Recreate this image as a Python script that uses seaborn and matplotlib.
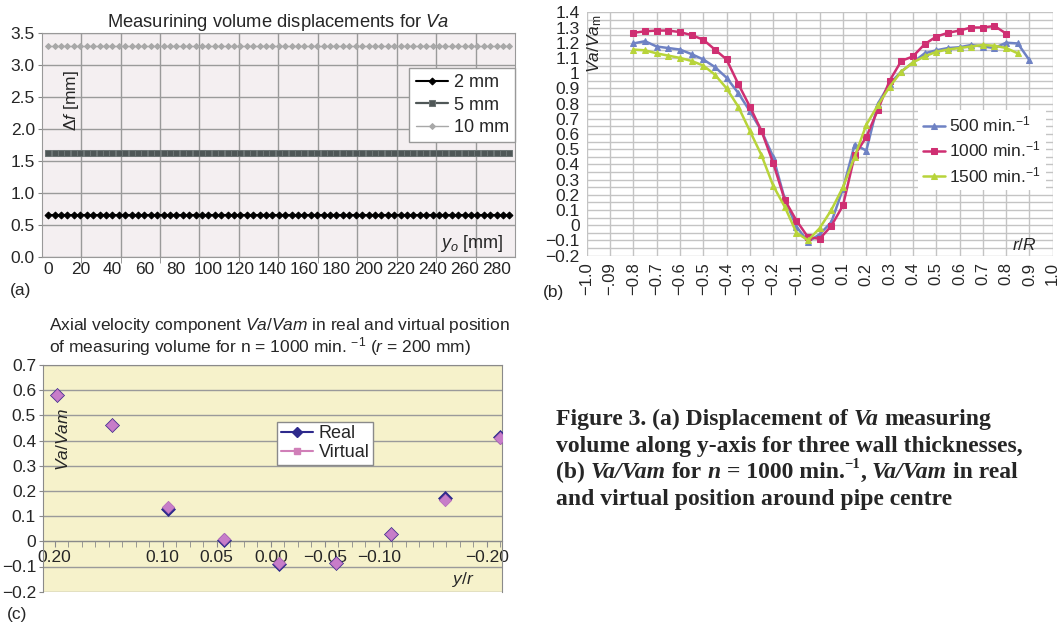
import matplotlib
matplotlib.use('Agg')
import matplotlib.pyplot as plt
import numpy as np
import pandas as pd
import seaborn as sns

sns.set_style('white')
plt.rcParams['font.family'] = ['Liberation Sans', 'DejaVu Sans']
plt.rcParams['mathtext.fontset'] = 'custom'
plt.rcParams['mathtext.rm'] = 'Liberation Sans'
plt.rcParams['mathtext.it'] = 'Liberation Sans:italic'

# %% data
# (a) measuring volume displacement for three wall thicknesses
y_o = np.arange(0, 292, 4)
wall_2mm = [0.65] * len(y_o)
wall_5mm = [1.62] * len(y_o)
wall_10mm = [3.30] * len(y_o)
a_xticks = [0, 20, 40, 60, 80, 100, 120, 140, 160, 180, 200, 220, 240, 260, 280]

# (b) Va/Vam profiles
r_500 = np.round(np.arange(-0.8, 0.901, 0.05), 2)
va_500 = [1.195, 1.21, 1.175, 1.165, 1.155, 1.125, 1.09, 1.04, 0.97, 0.87, 0.75, 0.62,
          0.45, 0.17, -0.01, -0.11, -0.06, 0.02, 0.24, 0.53, 0.49, 0.80, 0.93, 1.01,
          1.07, 1.13, 1.15, 1.165, 1.17, 1.185, 1.175, 1.165, 1.20, 1.195, 1.085]
r_1000 = np.round(np.arange(-0.8, 0.801, 0.05), 2)
va_1000 = [1.265, 1.275, 1.28, 1.28, 1.27, 1.25, 1.22, 1.155, 1.09, 0.93, 0.78, 0.62,
           0.41, 0.165, 0.03, -0.08, -0.09, -0.005, 0.13, 0.46, 0.58, 0.76, 0.95, 1.08,
           1.11, 1.19, 1.24, 1.265, 1.28, 1.30, 1.30, 1.31, 1.26]
r_1500 = np.round(np.arange(-0.8, 0.851, 0.05), 2)
va_1500 = [1.155, 1.15, 1.13, 1.115, 1.10, 1.08, 1.05, 0.99, 0.90, 0.78, 0.62, 0.46,
           0.26, 0.12, -0.05, -0.10, -0.02, 0.10, 0.25, 0.45, 0.66, 0.79, 0.91, 1.01,
           1.07, 1.11, 1.14, 1.155, 1.165, 1.175, 1.185, 1.18, 1.165, 1.13]
b_xlabels = ['\u22121.0', '\u2212.09', '\u22120.8', '\u22120.7', '\u22120.6', '\u22120.5',
             '\u22120.4', '\u22120.3', '\u22120.2', '\u22120.1', '0.0', '0.1', '0.2', '0.3',
             '0.4', '0.5', '0.6', '0.7', '0.8', '0.9', '1.0']
b_ylabels = ['\u22120.2', '\u22120.1', '0', '0.1', '0.2', '0.3', '0.4', '0.5', '0.6', '0.7',
             '0.8', '0.9', '1', '1.1', '1.2', '1.3', '1.4']

# (c) real vs virtual position
y_r = [0.198, 0.147, 0.095, 0.043, -0.008, -0.060, -0.111, -0.161, -0.212]
va_real = [0.58, 0.46, 0.13, 0.005, -0.09, -0.085, 0.03, 0.17, 0.415]
va_virtual = [0.58, 0.46, 0.135, 0.008, -0.085, -0.085, 0.03, 0.165, 0.41]
c_xticks = [0.20, 0.10, 0.05, 0.00, -0.05, -0.10, -0.20]
c_xlabels = ['0.20', '0.10', '0.05', '0.00', '\u22120.05', '\u22120.10', '\u22120.20']
c_ylabels = ['\u22120.2', '\u22120.1', '0', '0.1', '0.2', '0.3', '0.4', '0.5', '0.6', '0.7']

fig = plt.figure(figsize=(10.61, 6.25), dpi=100)

# %% panel (a)
ax = fig.add_axes([0.0393, 0.5893, 0.4461, 0.3574])
ax.set_facecolor('#f4eff1')
sns.lineplot(x=y_o, y=wall_2mm, ax=ax, color='black', marker='D', markersize=3.5,
             markeredgecolor='black', linewidth=1.5, label='2 mm')
sns.lineplot(x=y_o, y=wall_5mm, ax=ax, color='#4f5757', marker='s', markersize=5,
             markeredgecolor='#6c7474', linewidth=1.6, label='5 mm')
sns.lineplot(x=y_o, y=wall_10mm, ax=ax, color='#a8a8a8', marker='D', markersize=3,
             markeredgecolor='#a8a8a8', linewidth=1, label='10 mm')
ax.set_xlim(-4.1, 291.5)
ax.set_ylim(0, 3.5)
ax.set_xticks(a_xticks)
ax.set_xticklabels([str(v) for v in a_xticks])
ax.set_xticks(np.linspace(-4.1, 291.5, 13)[1:-1], minor=True)
ax.set_yticks(np.arange(0, 3.51, 0.5))
ax.set_yticklabels(['%.1f' % v for v in np.arange(0, 3.51, 0.5)])
ax.grid(which='minor', axis='x', color='#9a9a9a', linewidth=1)
ax.grid(which='major', axis='y', color='#9a9a9a', linewidth=1)
ax.tick_params(axis='x', which='major', length=0, pad=4, labelsize=12.5)
ax.tick_params(axis='x', which='minor', length=4, color='#888888', direction='out')
ax.tick_params(axis='y', length=3, color='#888888', direction='out', pad=2, labelsize=12.5)
ax.tick_params(bottom=True, left=True, which='both')
for s in ax.spines.values():
    s.set_color('#999999')
ax.set_xlabel('')
ax.set_ylabel('')
ax.set_title(r'Measurining volume displacements for $\mathit{Va}$', fontsize=13.2, pad=4)
ax.text(0.064, 0.70, r'$\Delta\mathit{f}$ [mm]', rotation=90, transform=ax.transAxes,
        ha='center', va='center', fontsize=12.5)
ax.text(0.975, 0.061, r'$y_o$ [mm]', transform=ax.transAxes, ha='right', va='center',
        fontsize=13)
ax.legend(loc='upper right', bbox_to_anchor=(1.0, 0.845), fontsize=13, frameon=True,
          fancybox=False, edgecolor='#999999', framealpha=1, borderaxespad=0,
          handlelength=1.8, labelspacing=0.3, borderpad=0.35, handletextpad=0.3)

# %% panel (b)
ax = fig.add_axes([0.553, 0.5912, 0.4392, 0.3891])
sns.lineplot(x=r_500, y=va_500, ax=ax, color='#6f82c4', marker='^', markersize=4,
             markeredgecolor='#6f82c4', linewidth=1.8, sort=False, label='500 min.$^{-1}$')
sns.lineplot(x=r_1000, y=va_1000, ax=ax, color='#cf2f72', marker='s', markersize=4.5,
             markeredgecolor='#cf2f72', linewidth=1.8, sort=False, label='1000 min.$^{-1}$')
sns.lineplot(x=r_1500, y=va_1500, ax=ax, color='#b8d43a', marker='^', markersize=5,
             markeredgecolor='#b8d43a', linewidth=1.8, sort=False, label='1500 min.$^{-1}$')
ax.set_xlim(-1.0, 1.0)
ax.set_ylim(-0.2, 1.4)
ax.set_xticks(np.linspace(-1.0, 1.0, 21))
ax.set_xticklabels(b_xlabels, rotation=90)
ax.set_yticks(np.linspace(-0.2, 1.4, 17))
ax.set_yticklabels(b_ylabels)
ax.set_yticks(np.linspace(-0.15, 1.35, 16), minor=True)
ax.grid(which='major', color='#c4c4c4', linewidth=1)
ax.grid(which='minor', axis='y', color='#c4c4c4', linewidth=1)
ax.tick_params(which='both', length=0, labelsize=12.5)
ax.tick_params(axis='x', pad=5, labelsize=12)
ax.tick_params(axis='y', pad=5)
for s in ax.spines.values():
    s.set_visible(False)
ax.set_xlabel('')
ax.set_ylabel('')
ax.text(0.018, 0.87, r'$\mathit{Va/Va}_\mathrm{m}$', rotation=90, transform=ax.transAxes,
        ha='center', va='center', fontsize=12.5)
ax.text(0.966, 0.043, r'$\mathit{r/R}$', transform=ax.transAxes, ha='right', va='center',
        fontsize=12.5)
ax.legend(loc='upper left', bbox_to_anchor=(0.71, 0.60), frameon=True, edgecolor='none',
          facecolor='white', framealpha=1, fancybox=False, fontsize=12.5, handlelength=1.3,
          handletextpad=0.2, labelspacing=0.3, borderpad=0.3, borderaxespad=0)

# %% panel (c)
ax = fig.add_axes([0.0405, 0.0533, 0.4326, 0.3627])
ax.set_facecolor('#f6f2cb')
sns.scatterplot(x=y_r, y=va_real, ax=ax, color='#2e2a8c', marker='D', s=50,
                edgecolor='#2e2a8c', zorder=3)
sns.scatterplot(x=y_r, y=va_virtual, ax=ax, color='#c77dc9', marker='D', s=40,
                edgecolor='#b56ab8', zorder=4)
ax.set_xlim(0.2108, -0.2139)
ax.set_ylim(-0.2, 0.7)
ax.set_yticks(np.linspace(-0.2, 0.7, 10))
ax.set_yticklabels(c_ylabels)
ax.set_xticks(c_xticks)
ax.set_xticklabels(c_xlabels)
ax.set_xticks(np.arange(-0.2125, 0.2101, 0.0125), minor=True)
ax.grid(which='major', axis='y', color='#9a9a9a', linewidth=1)
ax.spines['bottom'].set_position(('data', 0))
for s in ax.spines.values():
    s.set_color('#8a8a8a')
ax.tick_params(axis='x', which='both', bottom=True, length=4, direction='out',
               color='#8a8a8a', pad=2, labelsize=12.5)
ax.tick_params(axis='y', left=True, length=3, direction='out', color='#8a8a8a',
               pad=2, labelsize=12.5)
ax.set_xlabel('')
ax.set_ylabel('')
ax.text(0.044, 0.67, r'$\mathit{Va/Vam}$', rotation=90, transform=ax.transAxes,
        ha='center', va='center', fontsize=12.5)
ax.text(0.915, 0.052, r'$\mathit{y/r}$', transform=ax.transAxes, ha='center', va='center',
        fontsize=12.5)
handles = [
    plt.Line2D([], [], color='#2e2a8c', marker='D', markersize=5, linewidth=1.5),
    plt.Line2D([], [], color='#d07fb8', marker='s', markersize=4, linewidth=1.5),
]
ax.legend(handles, ['Real', 'Virtual'], loc='upper left', bbox_to_anchor=(0.51, 0.75),
          fontsize=13, frameon=True, fancybox=False, edgecolor='#8a8a8a', framealpha=1,
          facecolor='white', borderaxespad=0, handlelength=1.8, labelspacing=0.1,
          borderpad=0.2, handletextpad=0.3)

fig.text(0.046, 1 - 330 / 625,
         r'Axial velocity component $\mathit{Va/Vam}$ in real and virtual position',
         fontsize=12.5, va='baseline')
fig.text(0.046, 1 - 352 / 625,
         r'of measuring volume for n = 1000 min. $^{-1}$ ($\mathit{r}$ = 200 mm)',
         fontsize=12.5, va='baseline')

# panel letters
fig.text(0.0095, 1 - 290 / 625, '(a)', fontsize=12.5, va='center')
fig.text(0.512, 1 - 292 / 625, '(b)', fontsize=12.5, va='center')
fig.text(0.0066, 1 - 614 / 625, '(c)', fontsize=12.5, va='center')


# %% caption, built piece by piece so italics sit inside bold serif text
def caption_line(x, y, parts, size=17):
    r = fig.canvas.get_renderer()
    base = dict(family=['Liberation Serif', 'DejaVu Serif'], weight='bold', va='baseline')
    probe = fig.text(0, 0, 'x x', fontsize=size, **base)
    w_sp = probe.get_window_extent(r).width
    probe.set_text('xx')
    space = (w_sp - probe.get_window_extent(r).width) / fig.bbox.width
    probe.remove()
    for s, kind in parts:
        x += (len(s) - len(s.lstrip(' '))) * space
        core = s.strip(' ')
        if kind == 'sup':
            t = fig.text(x, y + size * 0.42 / (6.25 * 72), core, fontsize=size * 0.62, **base)
        else:
            t = fig.text(x, y, core, fontsize=size,
                         style='italic' if kind == 'it' else 'normal', **base)
        x += t.get_window_extent(r).width / fig.bbox.width
        x += (len(s) - len(s.rstrip(' '))) * space


cap_x = 556 / 1061
caption_line(cap_x, 1 - 425 / 625, [('Figure 3. (a) Displacement of ', 'n'), ('Va', 'it'),
                                    (' measuring', 'n')])
caption_line(cap_x, 1 - 451.7 / 625, [('volume along y-axis for three wall thicknesses,', 'n')])
caption_line(cap_x, 1 - 478.3 / 625, [('(b) ', 'n'), ('Va/Vam', 'it'), (' for ', 'n'),
                                      ('n', 'it'), (' = 1000 min.', 'n'), ('\u22121', 'sup'),
                                      (', ', 'n'), ('Va/Vam', 'it'), (' in real', 'n')])
caption_line(cap_x, 1 - 505 / 625, [('and virtual position around pipe centre', 'n')])

fig.savefig('out.png', dpi=100)
